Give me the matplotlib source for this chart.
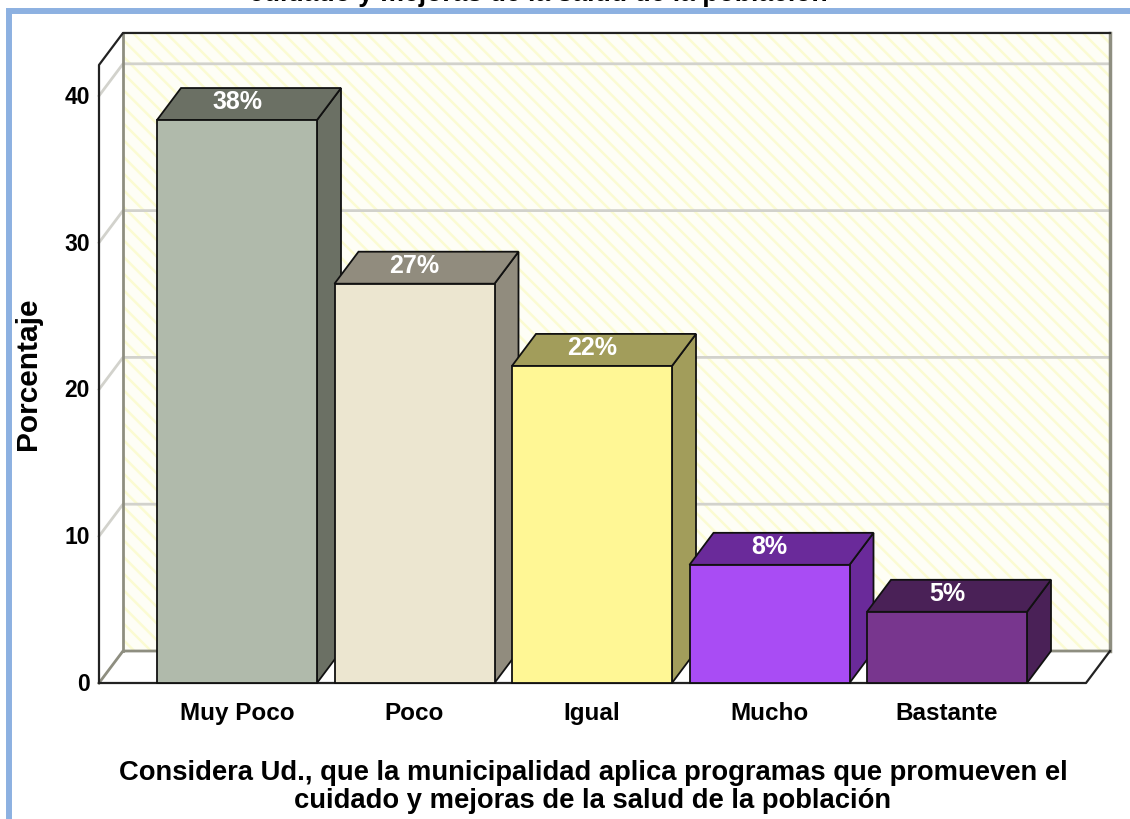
import matplotlib
matplotlib.use("Agg")
import matplotlib.pyplot as plt
from matplotlib.patches import Polygon, Rectangle

plt.rcParams['font.family'] = ['Liberation Sans', 'DejaVu Sans']
plt.rcParams['hatch.linewidth'] = 1.8

# Datos
categorias = ['Muy Poco', 'Poco', 'Igual', 'Mucho', 'Bastante']
alturas = [38.35, 27.2, 21.6, 8.05, 4.85]
etiquetas = ['38%', '27%', '22%', '8%', '5%']
y_ticks = [0, 10, 20, 30, 40]
titulo_x = ('Considera Ud., que la municipalidad aplica programas que promueven el\n'
            'cuidado y mejoras de la salud de la población')
titulo_y = 'Porcentaje'
titulo_cortado = 'cuidado y mejoras de la salud de la población'

color_frente = ['#b0baab', '#ece6d0', '#fff795', '#a94cf4', '#78368e']
color_lado = ['#6b7064', '#918c7e', '#a29d5b', '#6a2a9a', '#4a2157']

# Escala: 177.5 px por categoria, 14.68 px por unidad de porcentaje
W, H = 1130, 819
px_x, px_y = 177.5, 14.68
x0_px, y0_px = 237, 683
fig = plt.figure(figsize=(W / 100, H / 100), dpi=100)
ax = fig.add_axes([0, 0, 1, 1])
ax.set_xlim(-x0_px / px_x, (W - x0_px) / px_x)
ax.set_ylim((y0_px - H) / px_y, y0_px / px_y)
ax.axis('off')


def xp(p):
    return (p - x0_px) / px_x


def yp(p):
    return (y0_px - p) / px_y


ancho = 160 / px_x
dx = 24 / px_x   # profundidad 3D
dy = 32 / px_y
x_izq = xp(99)
x_der = xp(1086)
y_sup = 42.1

# Marco azul (sale por la derecha y por abajo)
ax.add_patch(Rectangle((xp(9), yp(900)), 1300 / px_x, 889 / px_y, fill=False,
                       ec='#8db1e1', lw=4.3, zorder=1))
ax.text(xp(538), yp(1), titulo_cortado, ha='center', va='baseline',
        fontsize=19.2, fontweight='bold', color='black', zorder=1)

# Pared del fondo
ax.add_patch(Rectangle((x_izq + dx, dy), x_der - x_izq, y_sup, fc='#fefef6', ec='none', zorder=1.5))
ax.add_patch(Rectangle((x_izq + dx, dy), x_der - x_izq, y_sup, fc='none', ec='#fbfbd2',
                       hatch='\\\\', lw=0, zorder=1.6))

# Lineas de cuadricula
for t in y_ticks[1:]:
    ax.plot([x_izq, x_izq + dx, x_der + dx], [t, t + dy, t + dy], color='#d2d2cc', lw=2, zorder=2)
ax.plot([x_izq, x_izq + dx, x_der + dx], [0, dy, dy], color='#8e8e80', lw=2, zorder=2.1)
ax.plot([x_izq + dx, x_izq + dx], [dy, y_sup + dy], color='#8e8e80', lw=2, zorder=2.1)
ax.plot([x_der + dx, x_der + dx], [dy, y_sup + dy], color='#8e8e80', lw=2.5, zorder=2.1)

# Contorno negro
ax.plot([x_izq, x_izq, x_izq + dx, x_der + dx], [0, y_sup, y_sup + dy, y_sup + dy],
        color='#222222', lw=1.6, zorder=2.2)
ax.plot([x_izq, x_der, x_der + dx], [0, 0, dy], color='#222222', lw=1.6, zorder=2.2)

# Barras 3D
for i, h in enumerate(alturas):
    z = 3 + i
    l, r = i - ancho / 2, i + ancho / 2
    ax.add_patch(Polygon([(r, 0), (r + dx, dy), (r + dx, h + dy), (r, h)],
                         fc=color_lado[i], ec='#111111', lw=1.3, zorder=z))
    ax.add_patch(Polygon([(l, h), (l + dx, h + dy), (r + dx, h + dy), (r, h)],
                         fc=color_lado[i], ec='#111111', lw=1.3, zorder=z))
    ax.add_patch(Rectangle((l, 0), ancho, h, fc=color_frente[i], ec='#111111', lw=1.3, zorder=z))
    ax.text(i, h + 18 / px_y, etiquetas[i], ha='center', va='center', color='white',
            fontsize=18, fontweight='bold', zorder=20)
    ax.text(i, yp(720), categorias[i], ha='center', va='baseline', color='black',
            fontsize=17.5, fontweight='bold', zorder=20)

# Ticks del eje y
for t in y_ticks:
    ax.text(xp(90), t - 8 / px_y, str(t), ha='right', va='baseline',
            fontsize=16.5, fontweight='bold', zorder=20)

# Titulos de ejes
ax.text(xp(28), yp(374), titulo_y, rotation=90, ha='center', va='center',
        fontsize=21.5, fontweight='bold', zorder=20)
ax.text(xp(593), yp(787), titulo_x, ha='center', va='center',
        fontsize=19.7, fontweight='bold', linespacing=1.05, zorder=20)

fig.savefig('out.png', dpi=100)
